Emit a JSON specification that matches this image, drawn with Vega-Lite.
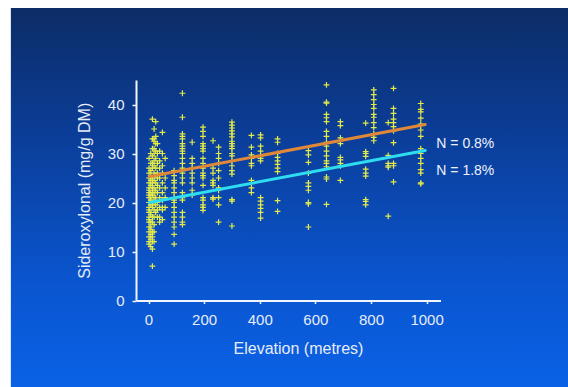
{
  "$schema": "https://vega.github.io/schema/vega-lite/v6.json",
  "autosize": {"type": "none"},
  "width": 304.5,
  "height": 220.5,
  "padding": {"left": 136, "top": 80, "right": 127.5, "bottom": 86.5},
  "background": "#ffffff",
  "config": {
    "view": {"stroke": null},
    "font": "Liberation Sans",
    "axis": {
      "grid": false,
      "domainColor": "#f2f5fb",
      "domainWidth": 2,
      "tickColor": "#f2f5fb",
      "tickWidth": 1.5,
      "labelColor": "#e6ecf8",
      "labelFont": "Liberation Sans",
      "labelFontSize": 15,
      "titleColor": "#e6ecf8",
      "titleFont": "Liberation Sans",
      "titleFontSize": 16,
      "titleFontWeight": "normal",
      "format": "d"
    },
    "axisX": {"tickSize": 3, "labelPadding": 9, "titlePadding": 13, "titleX": 162},
    "axisY": {"tickSize": 4, "labelPadding": 8, "titlePadding": 15}
  },
  "layer": [
    {
      "data": {"values": [{}]},
      "mark": {"type": "rect", "clip": false, "color": {"gradient": "linear", "x1": 0, "y1": 0, "x2": 0, "y2": 1, "stops": [{"offset": 0, "color": "#0c2c66"}, {"offset": 0.35, "color": "#0b3f9c"}, {"offset": 0.7, "color": "#0a55cf"}, {"offset": 1, "color": "#0a63e8"}]}},
      "encoding": {
        "x": {"datum": -495, "type": "quantitative", "scale": {"domain": [-45, 1050], "nice": false, "zero": false}, "title": "Elevation (metres)", "axis": {"values": [0, 200, 400, 600, 800, 1000], "zindex": 1}},
        "x2": {"datum": 1530},
        "y": {"datum": -20, "type": "quantitative", "scale": {"domain": [0, 45], "nice": false, "zero": false}, "title": "Sideroxylonal (mg/g DM)", "axis": {"values": [0, 10, 20, 30, 40], "zindex": 1}},
        "y2": {"datum": 59.7}
      }
    },
    {
      "data": {"values": [
        {"e":2,"s":29},{"e":2,"s":27},{"e":2,"s":26},{"e":2,"s":25},{"e":2,"s":24},{"e":2,"s":23},{"e":2,"s":22.5},{"e":2,"s":22},{"e":2,"s":21.5},{"e":2,"s":21},{"e":2,"s":20},{"e":2,"s":19},{"e":2,"s":18.5},{"e":2,"s":18},{"e":2,"s":17},{"e":2,"s":16.5},{"e":2,"s":16},{"e":2,"s":15},{"e":2,"s":14},{"e":2,"s":13},{"e":2,"s":12},{"e":2,"s":11.5},
        {"e":8,"s":30},{"e":8,"s":28},{"e":8,"s":26.5},{"e":8,"s":25.5},{"e":8,"s":24.5},{"e":8,"s":23.5},{"e":8,"s":22},{"e":8,"s":21},{"e":8,"s":20.5},{"e":8,"s":19.5},{"e":8,"s":18},{"e":8,"s":17.5},{"e":8,"s":16},{"e":8,"s":15},{"e":8,"s":14.5},{"e":8,"s":13.5},{"e":8,"s":12.5},{"e":8,"s":11},
        {"e":14,"s":37},{"e":14,"s":33},{"e":14,"s":31},{"e":14,"s":29.5},{"e":14,"s":28},{"e":14,"s":27},{"e":14,"s":25},{"e":14,"s":24},{"e":14,"s":23},{"e":14,"s":22},{"e":14,"s":21.5},{"e":14,"s":20},{"e":14,"s":19},{"e":14,"s":17},{"e":14,"s":16},{"e":14,"s":14},{"e":14,"s":13},{"e":14,"s":12},{"e":14,"s":10.5},{"e":14,"s":7},
        {"e":20,"s":35},{"e":20,"s":33},{"e":20,"s":32.5},{"e":20,"s":31},{"e":20,"s":30},{"e":20,"s":28.5},{"e":20,"s":27.5},{"e":20,"s":26},{"e":20,"s":24.5},{"e":20,"s":23},{"e":20,"s":22},{"e":20,"s":21},{"e":20,"s":20},{"e":20,"s":18.5},{"e":20,"s":17},{"e":20,"s":15.5},{"e":20,"s":14},{"e":20,"s":12},
        {"e":26,"s":36.5},{"e":26,"s":33.5},{"e":26,"s":32},{"e":26,"s":30.5},{"e":26,"s":29},{"e":26,"s":27},{"e":26,"s":25.5},{"e":26,"s":24},{"e":26,"s":22.5},{"e":26,"s":21},{"e":26,"s":19.5},{"e":26,"s":18},
        {"e":32,"s":32},{"e":32,"s":30},{"e":32,"s":28},{"e":32,"s":26},{"e":32,"s":25},{"e":32,"s":23.5},{"e":32,"s":22},{"e":32,"s":20},{"e":32,"s":18.5},{"e":32,"s":17},
        {"e":40,"s":30.5},{"e":40,"s":28.5},{"e":40,"s":27},{"e":40,"s":25},{"e":40,"s":23},{"e":40,"s":21},{"e":40,"s":19},{"e":40,"s":17},{"e":40,"s":16},
        {"e":50,"s":34.3},{"e":50,"s":30},{"e":50,"s":27.5},{"e":50,"s":26},{"e":50,"s":24},{"e":50,"s":22},{"e":50,"s":20.5},{"e":50,"s":19},{"e":50,"s":18.5},{"e":50,"s":16.5},
        {"e":60,"s":29},{"e":60,"s":25},{"e":60,"s":23},{"e":60,"s":21},{"e":60,"s":19},
        {"e":92,"s":26.5},{"e":92,"s":25.5},{"e":92,"s":24.5},{"e":92,"s":24},{"e":92,"s":23},{"e":92,"s":22},{"e":92,"s":21},{"e":92,"s":20.5},{"e":92,"s":20},{"e":92,"s":19},{"e":92,"s":18},{"e":92,"s":17},{"e":92,"s":16},{"e":92,"s":15},{"e":92,"s":13.5},{"e":92,"s":11.5},
        {"e":122,"s":42.3},{"e":122,"s":37.4},{"e":122,"s":34},{"e":122,"s":33.5},{"e":122,"s":33},{"e":122,"s":32},{"e":122,"s":31.5},{"e":122,"s":31},{"e":122,"s":30.5},{"e":122,"s":30},{"e":122,"s":29},{"e":122,"s":28},{"e":122,"s":27},{"e":122,"s":26.5},{"e":122,"s":26},{"e":122,"s":25},{"e":122,"s":24},{"e":122,"s":22},{"e":122,"s":21},{"e":122,"s":20.5},{"e":122,"s":18},{"e":122,"s":17},{"e":122,"s":16},{"e":122,"s":15.5},
        {"e":157,"s":32.3},{"e":157,"s":29},{"e":157,"s":28},{"e":157,"s":27},{"e":157,"s":26},{"e":157,"s":25},{"e":157,"s":24},{"e":157,"s":22.5},{"e":157,"s":21.5},
        {"e":196,"s":35.4},{"e":196,"s":34.5},{"e":196,"s":33.5},{"e":196,"s":32},{"e":196,"s":31.5},{"e":196,"s":31},{"e":196,"s":30.5},{"e":196,"s":29},{"e":196,"s":28},{"e":196,"s":27},{"e":196,"s":26},{"e":196,"s":25.5},{"e":196,"s":25},{"e":196,"s":23.5},{"e":196,"s":21},{"e":196,"s":20.5},{"e":196,"s":19.5},{"e":196,"s":19},{"e":196,"s":18.4},
        {"e":232,"s":32.6},{"e":232,"s":27},{"e":232,"s":26},{"e":232,"s":24.5},{"e":232,"s":24},{"e":232,"s":23.5},{"e":232,"s":21},{"e":232,"s":20.7},
        {"e":252,"s":31.3},{"e":252,"s":30},{"e":252,"s":29},{"e":252,"s":28},{"e":252,"s":26.5},{"e":252,"s":25},{"e":252,"s":23},{"e":252,"s":22.5},{"e":252,"s":21},{"e":252,"s":19.5},{"e":252,"s":16},
        {"e":300,"s":36.4},{"e":300,"s":35.8},{"e":300,"s":35.2},{"e":300,"s":34.6},{"e":300,"s":34},{"e":300,"s":33.4},{"e":300,"s":32.5},{"e":300,"s":32},{"e":300,"s":31.5},{"e":300,"s":31},{"e":300,"s":30},{"e":300,"s":29.5},{"e":300,"s":28.5},{"e":300,"s":27.5},{"e":300,"s":26.5},{"e":300,"s":25.8},{"e":300,"s":20.6},{"e":300,"s":20.3},{"e":300,"s":15.2},
        {"e":370,"s":33.7},{"e":370,"s":31.3},{"e":370,"s":29.7},{"e":370,"s":29},{"e":370,"s":28},{"e":370,"s":27.5},{"e":370,"s":24.5},{"e":370,"s":23},{"e":370,"s":22},
        {"e":403,"s":33.8},{"e":403,"s":33.2},{"e":403,"s":31.5},{"e":403,"s":30.5},{"e":403,"s":29.5},{"e":403,"s":29},{"e":403,"s":28.5},{"e":403,"s":21},{"e":403,"s":20.3},{"e":403,"s":19.5},{"e":403,"s":18.8},{"e":403,"s":18},{"e":403,"s":16.8},
        {"e":464,"s":33},{"e":464,"s":32.3},{"e":464,"s":30},{"e":464,"s":29.2},{"e":464,"s":28.5},{"e":464,"s":27.8},{"e":464,"s":27},{"e":464,"s":26.3},{"e":464,"s":20.4},{"e":464,"s":18.2},
        {"e":575,"s":30.6},{"e":575,"s":29.7},{"e":575,"s":28.2},{"e":575,"s":26},{"e":575,"s":24},{"e":575,"s":23.3},{"e":575,"s":22.5},{"e":575,"s":20},{"e":575,"s":19.7},{"e":575,"s":15},
        {"e":640,"s":44},{"e":640,"s":40.5},{"e":640,"s":40.3},{"e":640,"s":38},{"e":640,"s":37.3},{"e":640,"s":36.5},{"e":640,"s":34.5},{"e":640,"s":33.5},{"e":640,"s":32.3},{"e":640,"s":31.5},{"e":640,"s":30.5},{"e":640,"s":29.5},{"e":640,"s":28.5},{"e":640,"s":28},{"e":640,"s":27.3},{"e":640,"s":25.2},{"e":640,"s":24.8},{"e":640,"s":19.6},
        {"e":690,"s":36.5},{"e":690,"s":35.7},{"e":690,"s":33.2},{"e":690,"s":32.6},{"e":690,"s":32},{"e":690,"s":29.2},{"e":690,"s":28.7},{"e":690,"s":28},{"e":690,"s":27.5},{"e":690,"s":24.5},
        {"e":781,"s":36.2},{"e":781,"s":30.4},{"e":781,"s":30},{"e":781,"s":29.4},{"e":781,"s":26.8},{"e":781,"s":26},{"e":781,"s":25.4},{"e":781,"s":20.6},{"e":781,"s":20.2},{"e":781,"s":19.5},
        {"e":810,"s":43},{"e":810,"s":42},{"e":810,"s":41},{"e":810,"s":40},{"e":810,"s":39.2},{"e":810,"s":38},{"e":810,"s":37.4},{"e":810,"s":36.3},{"e":810,"s":35.3},{"e":810,"s":34},{"e":810,"s":33.3},{"e":810,"s":32.6},
        {"e":862,"s":36.3},{"e":862,"s":29.6},{"e":862,"s":28},{"e":862,"s":27.5},{"e":862,"s":27.2},{"e":862,"s":17.2},
        {"e":881,"s":43.3},{"e":881,"s":39.2},{"e":881,"s":38.2},{"e":881,"s":37},{"e":881,"s":36.3},{"e":881,"s":35.5},{"e":881,"s":34.6},{"e":881,"s":32.2},{"e":881,"s":28},{"e":881,"s":27.5},{"e":881,"s":24.2},
        {"e":979,"s":40.2},{"e":979,"s":39},{"e":979,"s":38.5},{"e":979,"s":37.2},{"e":979,"s":36},{"e":979,"s":34.8},{"e":979,"s":33.5},{"e":979,"s":31},{"e":979,"s":30},{"e":979,"s":29},{"e":979,"s":28},{"e":979,"s":26.7},{"e":979,"s":26},{"e":979,"s":24},{"e":979,"s":23.8}
      ]},
      "mark": {"type": "point", "shape": "M-1,0H1M0,-1V1", "filled": false, "stroke": "#e4ea48", "strokeWidth": 1.2, "size": 34, "opacity": 1},
      "encoding": {
        "x": {"field": "e", "type": "quantitative", "scale": {"domain": [-45, 1050], "nice": false, "zero": false}, "title": "Elevation (metres)", "axis": {"values": [0, 200, 400, 600, 800, 1000], "zindex": 1}},
        "y": {"field": "s", "type": "quantitative", "scale": {"domain": [0, 45], "nice": false, "zero": false}, "title": "Sideroxylonal (mg/g DM)", "axis": {"values": [0, 10, 20, 30, 40], "zindex": 1}}
      }
    },
    {
      "data": {"values": [
        {"series": "N = 0.8%", "e": 4, "s": 25.3},
        {"series": "N = 0.8%", "e": 995, "s": 35.9},
        {"series": "N = 1.8%", "e": 4, "s": 20.0},
        {"series": "N = 1.8%", "e": 995, "s": 30.6}
      ]},
      "mark": {"type": "line", "strokeWidth": 3, "strokeCap": "round"},
      "encoding": {
        "x": {"field": "e", "type": "quantitative", "scale": {"domain": [-45, 1050], "nice": false, "zero": false}, "title": "Elevation (metres)", "axis": {"values": [0, 200, 400, 600, 800, 1000], "zindex": 1}},
        "y": {"field": "s", "type": "quantitative", "scale": {"domain": [0, 45], "nice": false, "zero": false}, "title": "Sideroxylonal (mg/g DM)", "axis": {"values": [0, 10, 20, 30, 40], "zindex": 1}},
        "color": {"field": "series", "type": "nominal", "scale": {"domain": ["N = 0.8%", "N = 1.8%"], "range": ["#e0883a", "#2fdcf0"]}, "legend": null}
      }
    },
    {
      "data": {"values": [
        {"label": "N = 0.8%", "e": 1035, "s": 32.0},
        {"label": "N = 1.8%", "e": 1035, "s": 26.5}
      ]},
      "mark": {"type": "text", "align": "left", "baseline": "middle", "font": "Liberation Sans", "fontSize": 14, "color": "#eef2fa"},
      "encoding": {
        "x": {"field": "e", "type": "quantitative", "scale": {"domain": [-45, 1050], "nice": false, "zero": false}, "title": "Elevation (metres)", "axis": {"values": [0, 200, 400, 600, 800, 1000], "zindex": 1}},
        "y": {"field": "s", "type": "quantitative", "scale": {"domain": [0, 45], "nice": false, "zero": false}, "title": "Sideroxylonal (mg/g DM)", "axis": {"values": [0, 10, 20, 30, 40], "zindex": 1}},
        "text": {"field": "label"}
      }
    }
  ]
}
